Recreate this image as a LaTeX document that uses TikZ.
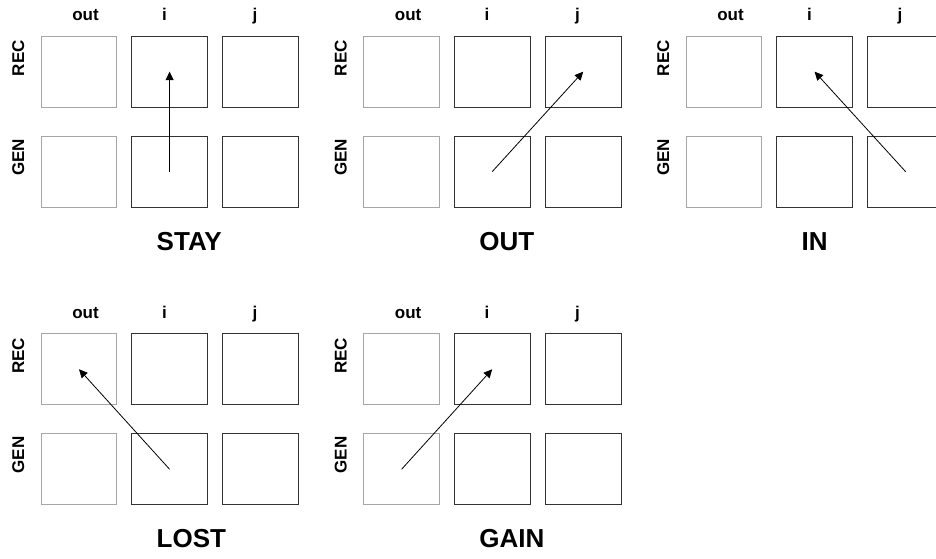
\documentclass[tikz,border=0pt]{standalone}
\usepackage{fontspec}
\setmainfont{Liberation Sans}
\usetikzlibrary{arrows.meta}
\begin{document}
\begin{tikzpicture}[x=1pt,y=-1pt,
  cell/.style={draw=black!80,line width=0.9pt,minimum width=75.7pt,minimum height=71pt,inner sep=0pt,anchor=north west},
  outcell/.style={cell,draw=black!35},
  collab/.style={font=\bfseries\fontsize{17}{17}\selectfont,anchor=base,inner sep=0pt},
  rowlab/.style={font=\bfseries\fontsize{17}{17}\selectfont,rotate=90,anchor=base,inner sep=0pt},
  title/.style={font=\bfseries\fontsize{26}{26}\selectfont,anchor=base west,inner sep=0pt},
  flow/.style={line width=0.8pt,-{Triangle[length=8.5pt,width=8pt]}}]
\useasboundingbox (0,0) rectangle (936,558);
\fill[white] (0,0) rectangle (936,558);
\clip (0,0) rectangle (936,558);
\foreach \p/\dx/\dy/\t in {1/0/0/STAY,2/322.6/0/OUT,3/645/0/IN,4/0/297.6/LOST,5/322.6/297.6/GAIN}{
  \begin{scope}[shift={(\dx,\dy)}]
    \node[outcell] (p\p or) at (40.7,35.7) {};
    \node[cell] (p\p ir) at (131.3,35.7) {};
    \node[cell] (p\p jr) at (222.3,35.7) {};
    \node[outcell] (p\p og) at (40.7,135.7) {};
    \node[cell] (p\p ig) at (131.3,135.7) {};
    \node[cell] (p\p jg) at (222.3,135.7) {};
    \node[collab] (p\p lo) at (85.5,20.7) {out};
    \node[collab] (p\p li) at (164.5,20.7) {i};
    \node[collab] (p\p lj) at (255,20.7) {j};
    \node[rowlab] (p\p lr) at (24,58.3) {REC};
    \node[rowlab] (p\p lg) at (24,157.5) {GEN};
    \node[title] (p\p t) at (156.5,250.3) {\t};
  \end{scope}
}
\draw[flow] (p1ig.center) -- (p1ir.center);
\draw[flow] (p2ig.center) -- (p2jr.center);
\draw[flow] (p3jg.center) -- (p3ir.center);
\draw[flow] (p4ig.center) -- (p4or.center);
\draw[flow] (p5og.center) -- (p5ir.center);
\end{tikzpicture}
\end{document}
